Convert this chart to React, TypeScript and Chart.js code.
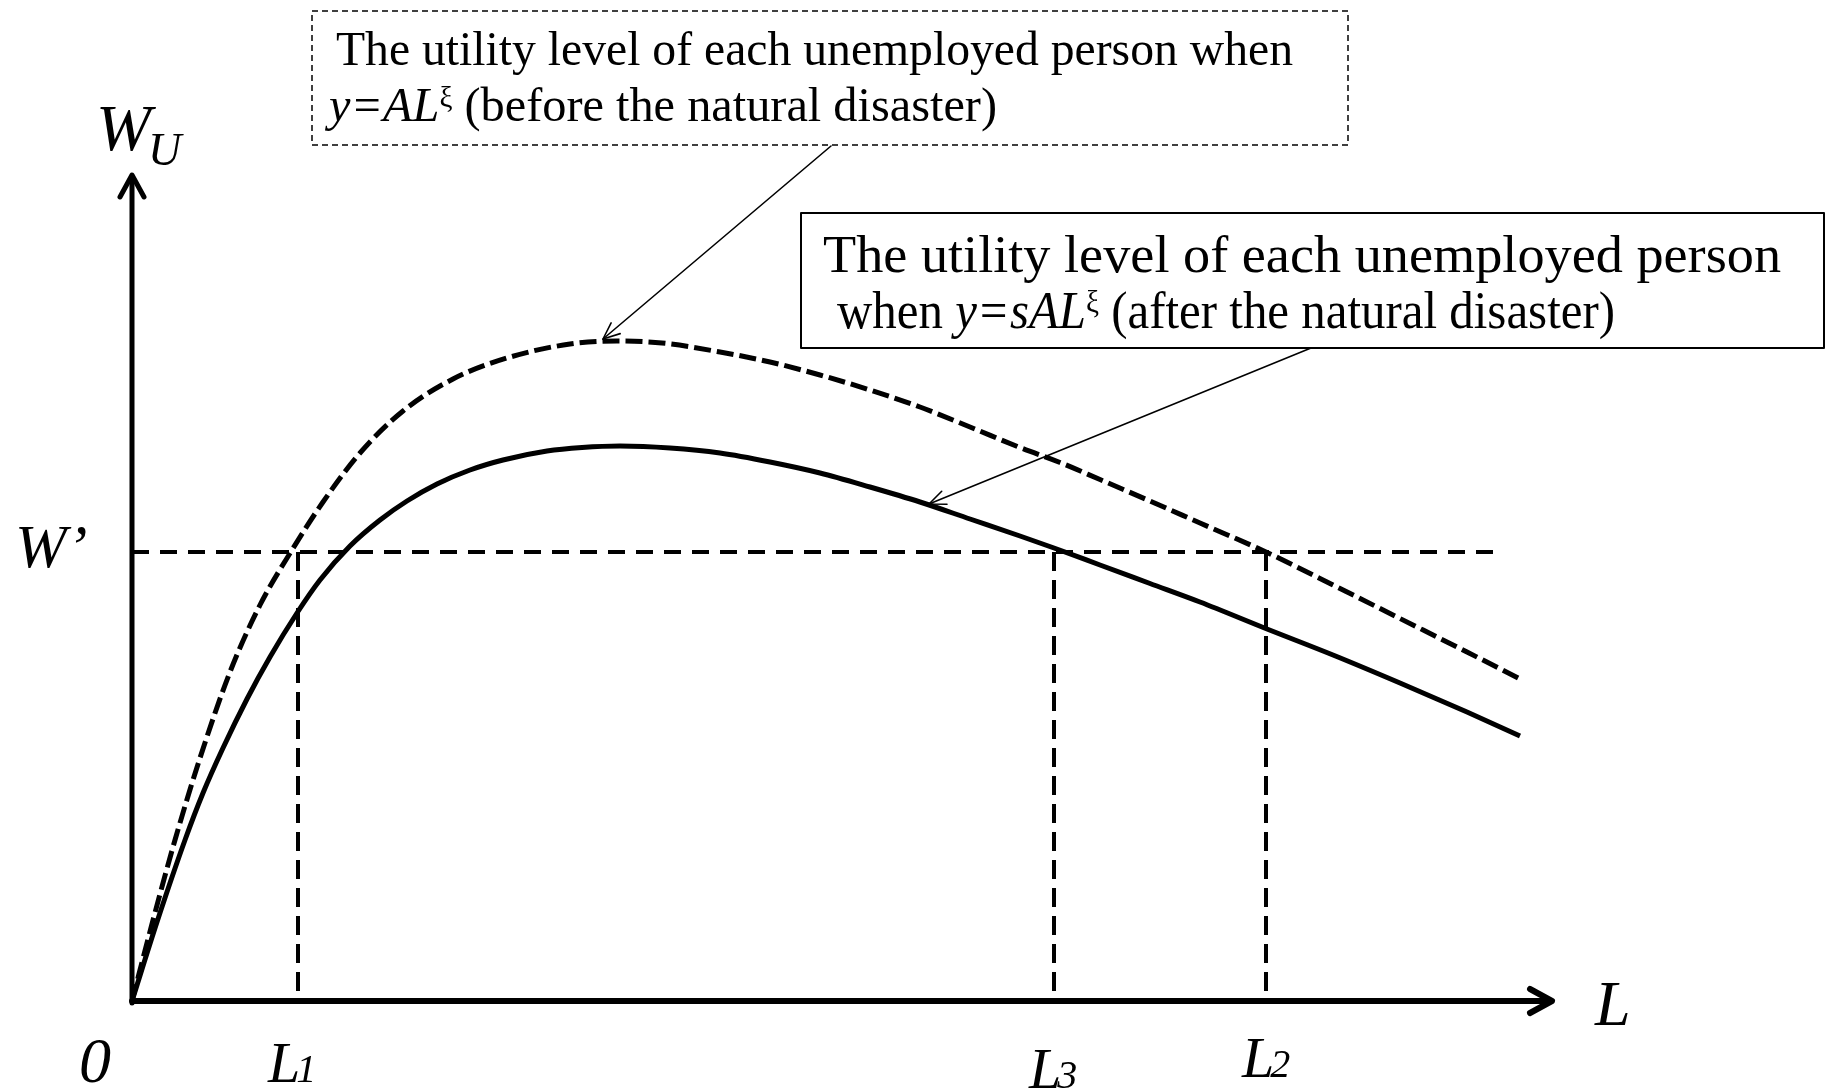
import React, { useEffect, useRef } from "react";
import { Chart, registerables } from "chart.js";

Chart.register(...registerables);

// ---- Data (L on the horizontal axis, W_U on the vertical axis; arbitrary units) ----
// Utility of an unemployed person before the disaster (y = A L^xi), dashed curve
const beforeL = [0, 2.0, 4.3, 6.8, 9.8, 12.8, 16.0, 19.1, 22.8, 27.1, 32.1, 37.5, 43.8, 48.5, 53.0, 58.8, 63.8, 68.8, 73.8, 78.8, 83.8, 88.8, 92.8, 96.8, 101.8, 106.8, 113.4, 120.1, 126.8, 133.5, 138.8];
const beforeW = [0, 7.7, 16.1, 24.3, 32.9, 39.6, 45.1, 49.9, 54.8, 59.0, 62.2, 64.3, 65.7, 66.0, 65.8, 64.9, 63.9, 62.6, 61.1, 59.4, 57.4, 55.35, 53.85, 52.15, 50.0, 47.8, 44.9, 41.6, 38.25, 34.9, 32.2];

// Utility of an unemployed person after the disaster (y = s A L^xi), solid curve
const afterL = [0, 2.5, 5.3, 7.1, 9.1, 11.5, 13.8, 16.5, 18.8, 21.8, 24.8, 27.5, 30.5, 33.8, 37.1, 41.5, 45.0, 48.8, 53.8, 58.8, 63.8, 68.8, 73.8, 78.8, 83.8, 88.8, 92.2, 96.8, 101.8, 106.8, 113.5, 120.1, 126.8, 133.5, 138.8];
const afterW = [0, 7.9, 16.1, 20.8, 25.3, 30.2, 34.4, 38.8, 42.1, 45.5, 48.1, 50.0, 51.7, 53.1, 54.1, 55.0, 55.35, 55.5, 55.3, 54.8, 53.9, 52.8, 51.4, 49.9, 48.2, 46.5, 45.3, 43.6, 41.75, 39.9, 37.2, 34.6, 31.8, 28.9, 26.5];

// Reference level W' and the L markers
const wPrime = 44.9;
const wPrimeLineEnd = 136.1;
const markerSubs = ["1", "3", "2"];
const markerL = [16.6, 92.2, 113.4];

// Axis extents
const axisMaxL = 142;
const axisMaxW = 82.6;

// Points the annotation arrows point at
const arrowTargetL = [47.1, 79.7];
const arrowTargetW = [66.2, 49.7];

// Texts
const yAxisMain = "W";
const yAxisSub = "U";
const xAxisLabel = "L";
const wPrimeLabel = "W\u2019";
const originLabel = "0";
const markerMain = "L";
const box1Line1 = "The utility level of each unemployed person when";
const box1Line2 = [
  { t: "y=AL", it: true },
  { t: "\u03BE", sup: true },
  { t: " (before the natural disaster)" },
];
const box2Line1 = "The utility level of each unemployed person";
const box2Line2 = [
  { t: "when " },
  { t: "y=sAL", it: true },
  { t: "\u03BE", sup: true },
  { t: " (after the natural disaster)" },
];

// ---- Drawing helpers ----
const SERIF = '"Liberation Serif", "Times New Roman", Times, serif';

type Seg = { t: string; it?: boolean; sup?: boolean };

function drawRich(ctx: CanvasRenderingContext2D, segs: Seg[], x: number, y: number, size: number, targetW?: number) {
  const fontFor = (s: Seg) => `${s.it ? "italic " : ""}${s.sup ? Math.round(size * 0.6) : size}px ${SERIF}`;
  let total = 0;
  for (const s of segs) {
    ctx.font = fontFor(s);
    total += ctx.measureText(s.t).width;
  }
  const k = targetW ? targetW / total : 1;
  ctx.save();
  ctx.translate(x, y);
  ctx.scale(k, 1);
  ctx.textAlign = "left";
  ctx.textBaseline = "alphabetic";
  let cx = 0;
  for (const s of segs) {
    ctx.font = fontFor(s);
    ctx.fillText(s.t, cx, s.sup ? -size * 0.3 : 0);
    cx += ctx.measureText(s.t).width;
  }
  ctx.restore();
}

function arrow(ctx: CanvasRenderingContext2D, x1: number, y1: number, x2: number, y2: number) {
  ctx.beginPath();
  ctx.moveTo(x1, y1);
  ctx.lineTo(x2, y2);
  ctx.stroke();
  const a = Math.atan2(y2 - y1, x2 - x1);
  const len = 18;
  const spread = 0.4;
  ctx.beginPath();
  ctx.moveTo(x2 - len * Math.cos(a - spread), y2 - len * Math.sin(a - spread));
  ctx.lineTo(x2, y2);
  ctx.lineTo(x2 - len * Math.cos(a + spread), y2 - len * Math.sin(a + spread));
  ctx.stroke();
}

const overlayPlugin = {
  id: "overlay",
  beforeDraw(chart: any) {
    const ctx = chart.ctx as CanvasRenderingContext2D;
    ctx.save();
    ctx.fillStyle = "#ffffff";
    ctx.fillRect(0, 0, chart.width, chart.height);
    ctx.restore();
  },
  afterDatasetsDraw(chart: any) {
    const ctx = chart.ctx as CanvasRenderingContext2D;
    const xs = chart.scales.x;
    const ys = chart.scales.y;
    const px = (v: number) => xs.getPixelForValue(v);
    const py = (v: number) => ys.getPixelForValue(v);
    const x0 = px(0);
    const y0 = py(0);
    const xEnd = px(axisMaxL);
    const yTop = py(axisMaxW);

    ctx.save();
    ctx.strokeStyle = "#000";
    ctx.fillStyle = "#000";
    ctx.lineJoin = "round";
    ctx.lineCap = "round";
    ctx.setLineDash([]);

    // Vertical axis with arrow
    ctx.lineWidth = 5;
    ctx.beginPath();
    ctx.moveTo(x0, y0 + 2);
    ctx.lineTo(x0, yTop + 2);
    ctx.stroke();
    ctx.beginPath();
    ctx.moveTo(x0 - 12, yTop + 22);
    ctx.lineTo(x0, yTop);
    ctx.lineTo(x0 + 12, yTop + 22);
    ctx.stroke();

    // Horizontal axis with arrow
    ctx.lineWidth = 6;
    ctx.beginPath();
    ctx.moveTo(x0, y0);
    ctx.lineTo(xEnd - 2, y0);
    ctx.stroke();
    ctx.beginPath();
    ctx.moveTo(xEnd - 22, y0 - 12);
    ctx.lineTo(xEnd, y0);
    ctx.lineTo(xEnd - 22, y0 + 12);
    ctx.stroke();

    // Axis labels
    ctx.textAlign = "left";
    ctx.textBaseline = "alphabetic";
    ctx.font = `italic 66px ${SERIF}`;
    ctx.fillText(yAxisMain, x0 - 36, yTop - 25);
    ctx.font = `italic 46px ${SERIF}`;
    ctx.fillText(yAxisSub, x0 + 16, yTop - 10);

    ctx.font = `italic 64px ${SERIF}`;
    ctx.fillText(xAxisLabel, xEnd + 43, y0 + 24);

    ctx.font = `italic 62px ${SERIF}`;
    ctx.fillText(wPrimeLabel, 15, py(wPrime) + 15);

    ctx.textAlign = "center";
    ctx.font = `italic 64px ${SERIF}`;
    ctx.fillText(originLabel, x0 - 37, y0 + 81);

    // Marker labels L1, L3, L2
    const labelDx = [-30, -25, -24];
    const labelDy = [81, 87, 76];
    markerL.forEach((l, i) => {
      const lx = px(l) + labelDx[i];
      const ly = y0 + labelDy[i];
      ctx.textAlign = "left";
      ctx.font = `italic 58px ${SERIF}`;
      ctx.fillText(markerMain, lx, ly);
      const w = ctx.measureText(markerMain).width;
      ctx.font = `italic 40px ${SERIF}`;
      ctx.fillText(markerSubs[i], lx + w - 4, ly);
    });

    // Box 1 (dashed) with text
    ctx.lineCap = "butt";
    ctx.lineWidth = 1.5;
    ctx.setLineDash([6, 4]);
    ctx.strokeRect(312, 11, 1036, 134);
    ctx.setLineDash([]);
    drawRich(ctx, [{ t: box1Line1 }], 336, 65, 48, 957);
    drawRich(ctx, box1Line2, 329, 121, 48, 668);

    // Box 2 (solid) with text
    ctx.lineWidth = 2;
    ctx.strokeRect(801, 213, 1023, 135);
    drawRich(ctx, [{ t: box2Line1 }], 823, 272, 52, 958);
    drawRich(ctx, box2Line2, 837, 328, 52, 778);

    // Annotation arrows
    ctx.lineWidth = 1.6;
    ctx.lineCap = "round";
    arrow(ctx, 831, 146, px(arrowTargetL[0]), py(arrowTargetW[0]));
    arrow(ctx, 1311, 348, px(arrowTargetL[1]), py(arrowTargetW[1]));

    ctx.restore();
  },
};

export default function App() {
  const canvasRef = useRef<HTMLCanvasElement | null>(null);

  useEffect(() => {
    const canvas = canvasRef.current;
    if (!canvas) return;

    const toPts = (xsArr: number[], ysArr: number[]) => xsArr.map((v, i) => ({ x: v, y: ysArr[i] }));

    const verticals = markerL.map((l) => ({
      data: [
        { x: l, y: wPrime },
        { x: l, y: 0 },
      ],
      borderColor: "#000",
      borderWidth: 4,
      borderDash: [19, 9],
      pointRadius: 0,
      showLine: true,
      tension: 0,
    }));

    const chart = new Chart(canvas, {
      type: "scatter",
      data: {
        datasets: [
          {
            label: "before",
            data: toPts(beforeL, beforeW),
            borderColor: "#000",
            borderWidth: 5,
            borderDash: [17, 6],
            pointRadius: 0,
            showLine: true,
            cubicInterpolationMode: "monotone",
          },
          {
            label: "after",
            data: toPts(afterL, afterW),
            borderColor: "#000",
            borderWidth: 5,
            pointRadius: 0,
            showLine: true,
            cubicInterpolationMode: "monotone",
          },
          {
            label: "W'",
            data: [
              { x: 0, y: wPrime },
              { x: wPrimeLineEnd, y: wPrime },
            ],
            borderColor: "#000",
            borderWidth: 4,
            borderDash: [17, 11],
            pointRadius: 0,
            showLine: true,
          },
          ...verticals,
        ] as any,
      },
      options: {
        responsive: false,
        animation: false,
        devicePixelRatio: 1,
        events: [],
        layout: { padding: { left: 132, right: 275, top: 175, bottom: 91 } },
        plugins: {
          legend: { display: false },
          tooltip: { enabled: false },
        },
        scales: {
          x: { type: "linear", min: 0, max: axisMaxL, display: false },
          y: { type: "linear", min: 0, max: axisMaxW, display: false },
        },
      },
      plugins: [overlayPlugin as any],
    });

    return () => chart.destroy();
  }, []);

  return (
    <div style={{ position: "absolute", left: 0, top: 0, width: 1827, height: 1092, background: "#fff" }}>
      <canvas ref={canvasRef} width={1827} height={1092} style={{ display: "block" }} />
    </div>
  );
}
